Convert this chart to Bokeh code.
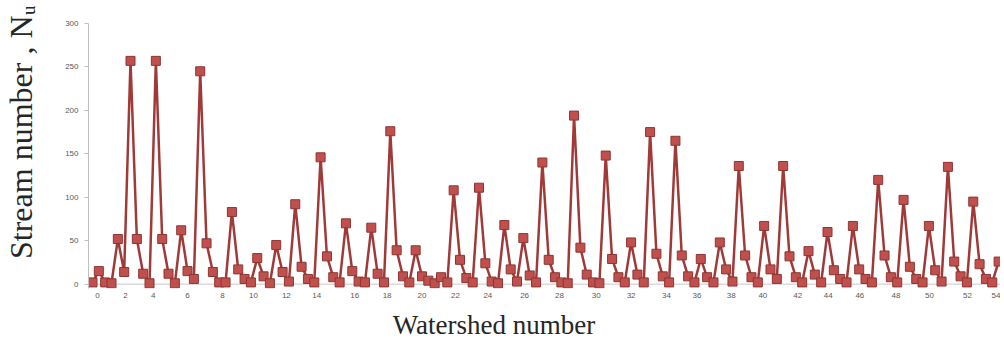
from bokeh.plotting import figure
from bokeh.models import FixedTicker, Range1d, Span
from bokeh.embed import file_html
from bokeh.resources import INLINE

# Stream numbers (Nu) for successive stream orders of each watershed
stream_number = [
    2, 15, 2, 1, 52, 14, 257, 52, 12, 1,
    257, 52, 12, 1, 62, 15, 6, 245, 47, 14,
    2, 2, 83, 17, 6, 2, 30, 9, 1, 45,
    14, 3, 92, 20, 6, 2, 146, 32, 8, 2,
    70, 15, 3, 2, 65, 12, 2, 176, 39, 9,
    2, 39, 9, 4, 1, 8, 2, 108, 28, 7,
    2, 111, 24, 3, 1, 68, 17, 3, 53, 10,
    2, 140, 28, 8, 2, 1, 194, 42, 11, 2,
    1, 148, 29, 8, 2, 48, 11, 2, 175, 35,
    9, 2, 165, 33, 9, 2, 29, 8, 2, 48,
    17, 3, 136, 33, 8, 2, 67, 17, 6, 136,
    32, 8, 2, 38, 11, 2, 60, 16, 6, 2,
    67, 17, 6, 2, 120, 33, 8, 2, 97, 20,
    6, 2, 67, 16, 3, 135, 26, 9, 2, 95,
    23, 6, 2, 26,
]
point_index = list(range(len(stream_number)))

# Watershed-number labels on the category axis and the category where each sits
watershed_labels = [str(v) for v in range(0, 56, 2)]
label_index = [0.8, 5.2, 9.6, 15.0, 20.5, 25.4, 30.6, 35.4, 41.4, 46.5, 52.0, 57.3,
               62.4, 68.2, 73.7, 79.5, 85.0, 90.6, 95.4, 100.8, 105.8, 111.3, 116.1,
               121.1, 126.8, 132.1, 138.1, 143.1]
y_ticks = [0, 50, 100, 150, 200, 250, 300]

p = figure(width=1000, height=342, output_backend="svg", toolbar_location=None,
           x_range=Range1d(-0.63, 143.3), y_range=Range1d(-5, 300),
           min_border_left=86, min_border_right=0, min_border_top=23, min_border_bottom=54)
p.outline_line_color = None
p.xgrid.visible = False
p.ygrid.visible = False
p.background_fill_color = "white"

zero_line = Span(location=0, dimension="width", line_color="#c8c8c8", line_width=1, level="underlay")
p.add_layout(zero_line)

p.line(point_index, stream_number, line_color="#a03a38", line_width=2.5)
p.scatter(point_index, stream_number, marker="square", size=9,
          fill_color="#c0504d", line_color="#8e3532", line_width=1)

# x axis
p.xaxis.ticker = FixedTicker(ticks=label_index)
p.xaxis.major_label_overrides = {t: l for t, l in zip(label_index, watershed_labels)}
p.xaxis.axis_line_alpha = 0
p.xaxis.major_tick_out = 0
p.xaxis.major_tick_in = 0
p.xaxis.minor_tick_line_color = None
p.xaxis.major_label_standoff = 4
p.xaxis.major_label_text_font = "Liberation Sans"
p.xaxis.major_label_text_font_size = "8px"
p.xaxis.major_label_text_color = "#595959"
p.xaxis.axis_label = "Watershed number" + "\u00a0" * 15
p.xaxis.axis_label_text_font = "Liberation Serif"
p.xaxis.axis_label_text_font_style = "normal"
p.xaxis.axis_label_text_font_size = "27px"
p.xaxis.axis_label_text_color = "#262626"
p.xaxis.axis_label_standoff = 9

# y axis
p.yaxis.ticker = FixedTicker(ticks=y_ticks)
p.yaxis.axis_line_color = "#bfbfbf"
p.yaxis.major_tick_line_color = "#bfbfbf"
p.yaxis.major_tick_out = 4
p.yaxis.major_tick_in = 0
p.yaxis.minor_tick_line_color = None
p.yaxis.major_label_standoff = 6
p.yaxis.major_label_text_font = "Liberation Sans"
p.yaxis.major_label_text_font_size = "8px"
p.yaxis.major_label_text_color = "#595959"
p.yaxis.axis_label = "\u00a0" * 6 + "Stream number , N\u1d64"
p.yaxis.axis_label_text_font = "Liberation Serif"
p.yaxis.axis_label_text_font_style = "normal"
p.yaxis.axis_label_text_font_size = "32px"
p.yaxis.axis_label_text_color = "#262626"
p.yaxis.axis_label_standoff = 23

open("out.html", "w").write(file_html(p, INLINE))
